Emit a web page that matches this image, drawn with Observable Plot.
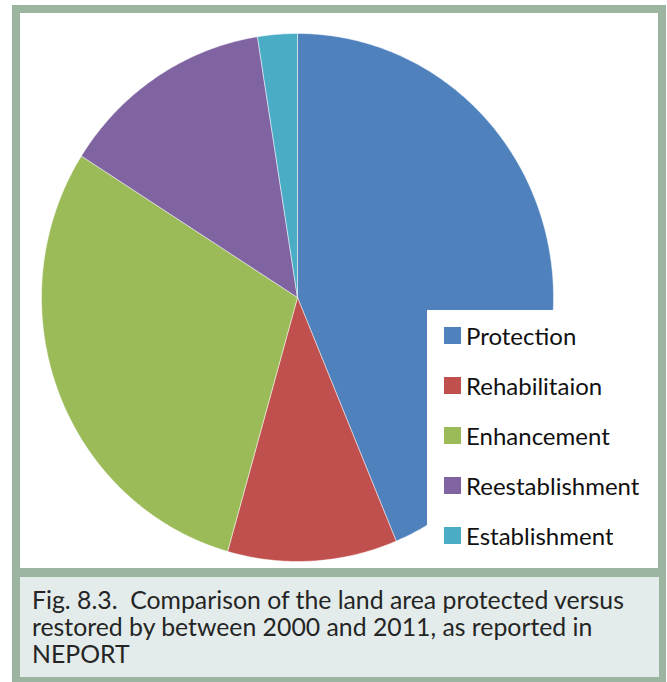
<!DOCTYPE html>
<html>
<head>
<meta charset="utf-8">
<script src="https://cdn.jsdelivr.net/npm/d3@7"></script>
<script src="https://cdn.jsdelivr.net/npm/@observablehq/plot@0.6"></script>
<style>
  html, body { margin: 0; padding: 0; background: #fff; }
  body { width: 667px; height: 682px; position: relative; overflow: hidden; font-family: Lato, sans-serif; }
  #frame { position: absolute; left: 12px; top: 5px; width: 654px; height: 690px; background: #9bb5a0; }
  #chart { position: absolute; left: 20px; top: 13px; width: 638px; height: 555px; background: #fff; }
  #chart svg { display: block; }
  #legendbox { position: absolute; left: 427px; top: 310px; width: 231px; height: 258px; background: #fff; }
  #legend { position: absolute; left: 444px; top: 310px; }
  #legend .lg-swatches { font-family: Lato, sans-serif; font-size: 24px; color: #111; margin: 0; }
  #legend .lg-swatch { height: 50px; padding: 0; display: flex; align-items: center; }
  #legend .lg-swatch > svg { margin-right: 5px; }
  #caption { position: absolute; left: 20px; top: 577px; width: 639px; height: 100px; background: #e3ecea;
    box-sizing: border-box; padding: 9px 0 0 12px; font-size: 24.8px; line-height: 27px; color: #252525; white-space: pre; }
</style>
</head>
<body>
<div id="frame"></div>
<div id="chart"></div>
<div id="legendbox"></div>
<div id="legend"></div>
<div id="caption"></div>
<script>
const categories = ["Protection", "Rehabilitaion", "Enhancement", "Reestablishment", "Establishment"];
const values = [43.7, 10.7, 29.6, 13.5, 2.5];
const colors = ["#4f81bd", "#c0504d", "#9bbb59", "#8064a2", "#4bacc6"];
const captionLines = [
  "Fig. 8.3.  Comparison of the land area protected versus",
  "restored by between 2000 and 2011, as reported in",
  "NEPORT"
];

// Build slice outlines (clockwise from 12 o'clock) in unit coordinates
const total = d3.sum(values);
const pts = [];
let acc = 0;
categories.forEach((c, i) => {
  const a0 = acc / total * 2 * Math.PI;
  acc += values[i];
  const a1 = acc / total * 2 * Math.PI;
  const n = Math.max(2, Math.ceil((a1 - a0) / (Math.PI / 360)));
  pts.push({cat: c, x: 0, y: 0});
  for (let k = 0; k <= n; k++) {
    const a = a0 + (a1 - a0) * k / n;
    pts.push({cat: c, x: Math.sin(a), y: Math.cos(a)});
  }
  pts.push({cat: c, x: 0, y: 0});
});

const chart = Plot.plot({
  width: 638,
  height: 555,
  margin: 0,
  x: {domain: [-1, 1], range: [21, 533], axis: null},
  y: {domain: [-1, 1], range: [548, 20], axis: null},
  color: {domain: categories, range: colors},
  marks: [
    Plot.line(pts, {x: "x", y: "y", z: "cat", fill: "cat", stroke: "#ffffff", strokeWidth: 0.6, strokeOpacity: 0.8, curve: "linear"})
  ]
});
document.getElementById("chart").appendChild(chart);

const legend = Plot.legend({
  color: {domain: categories, range: colors},
  legend: "swatches",
  columns: 1,
  swatchSize: 17,
  className: "lg"
});
document.getElementById("legend").appendChild(legend);

document.getElementById("caption").textContent = captionLines.join("\n");
</script>
</body>
</html>
